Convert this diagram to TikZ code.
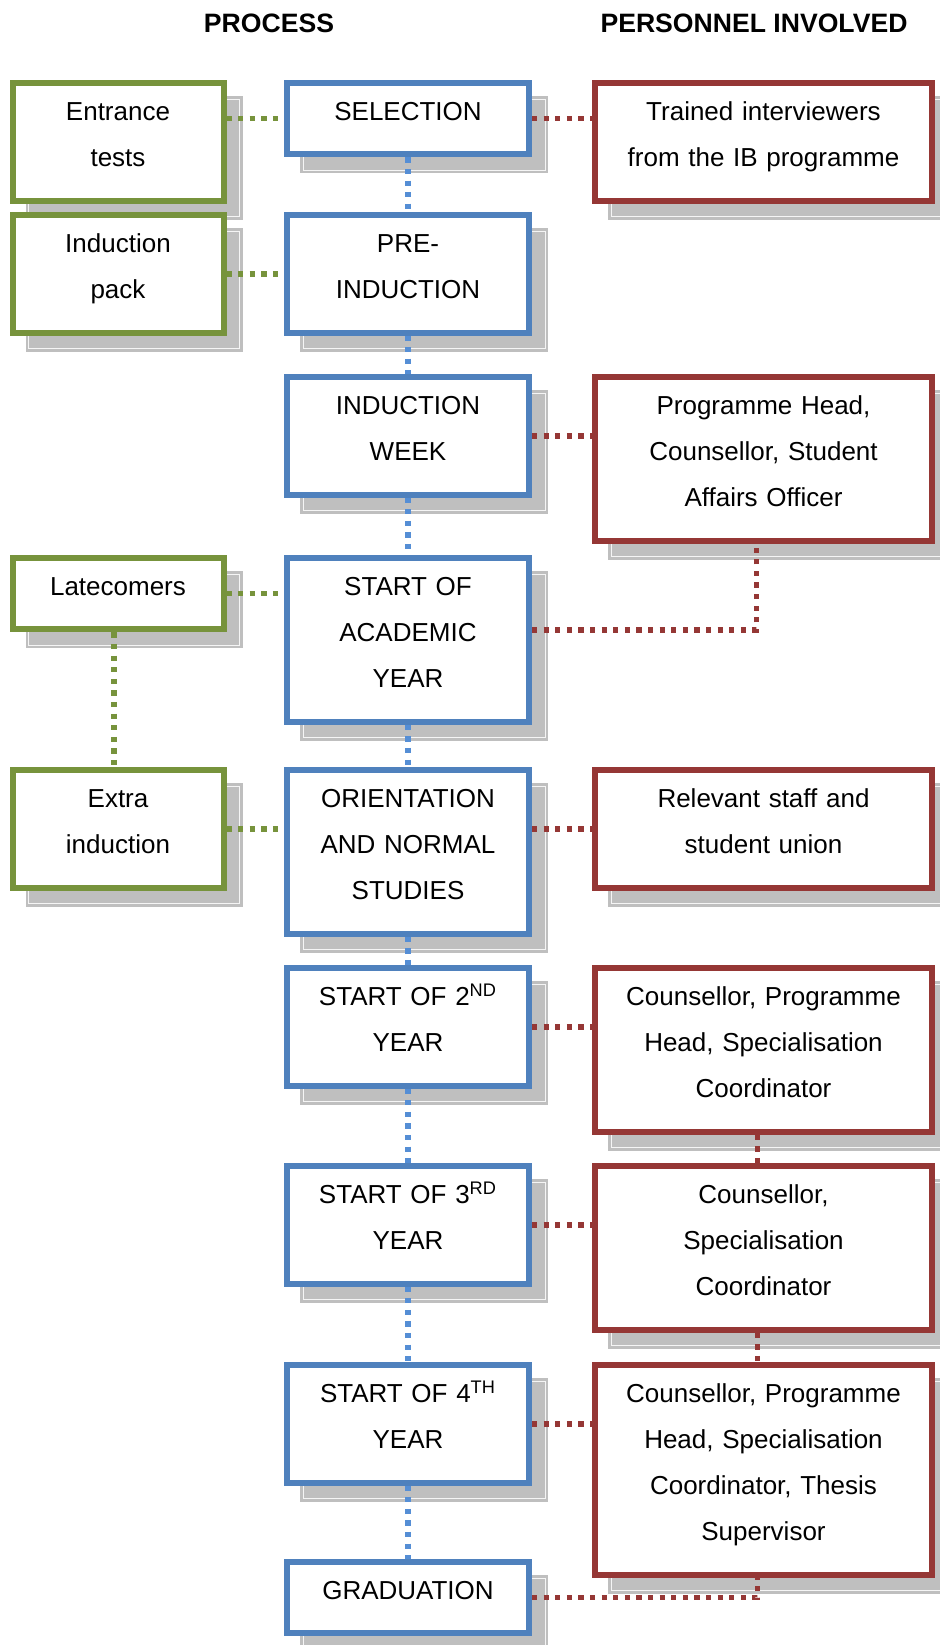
\documentclass[tikz,border=0pt]{standalone}
\usepackage{fontspec}
\setmainfont{Liberation Sans}
\definecolor{boxgreen}{HTML}{77933C}
\definecolor{boxblue}{HTML}{4F81BD}
\definecolor{boxred}{HTML}{953735}
\definecolor{dotblue}{HTML}{558ED5}
\usepackage{tikz}
\usetikzlibrary{backgrounds}

\begin{document}
\begin{tikzpicture}[x=0.5pt,y=-0.5pt,
  stagebox/.style={draw,line width=3pt,fill=white,anchor=north,align=center,inner xsep=4pt,inner ysep=2.5pt,
    font=\fontsize{13}{23.1}\selectfont,execute at begin node=\strut,execute at end node=\rule[-14.5pt]{0pt}{14.5pt}},
  greenbox/.style={stagebox,draw=boxgreen,text width=97.5pt},
  bluebox/.style={stagebox,draw=boxblue,text width=113pt},
  redbox/.style={stagebox,draw=boxred,text width=160.5pt},
  dotline/.style={line width=2.75pt,dash pattern=on 2.6pt off 3.2pt},
  gline/.style={dotline,draw=boxgreen},
  bline/.style={dotline,draw=dotblue},
  rline/.style={dotline,draw=boxred},
  dropbox/.style={draw=black!25,fill=black!25,line width=1.25pt,double=black!4,double distance=0.5pt},
  heading/.style={font=\bfseries\fontsize{13.3}{16}\selectfont}]
  \useasboundingbox (0,0) rectangle (939,1645);
  \node[heading] (proc) at (269,23) {PROCESS};
  \node[heading] (pers) at (754,23) {PERSONNEL INVOLVED};
  % left column
  \node[greenbox] (ent) at (118,80) {Entrance\\tests};
  \node[greenbox] (pack) at (118,212) {Induction\\pack};
  \node[greenbox] (late) at (118,555) {Latecomers};
  \node[greenbox] (extra) at (118,767) {Extra\\induction};
  % process column
  \node[bluebox] (sel) at (408,80) {SELECTION};
  \node[bluebox] (pre) at (408,212) {PRE-\\INDUCTION};
  \node[bluebox] (week) at (408,374) {INDUCTION\\WEEK};
  \node[bluebox] (acad) at (408,555) {START OF\\ACADEMIC\\YEAR};
  \node[bluebox] (orient) at (408,767) {ORIENTATION\\AND NORMAL\\STUDIES};
  \node[bluebox] (yrtwo) at (408,965) {START OF 2\textsuperscript{ND}\\YEAR};
  \node[bluebox] (yrthree) at (408,1163) {START OF 3\textsuperscript{RD}\\YEAR};
  \node[bluebox] (yrfour) at (408,1362) {START OF 4\textsuperscript{TH}\\YEAR};
  \node[bluebox] (grad) at (408,1559) {GRADUATION};
  % personnel column
  \node[redbox] (trn) at (763.5,80) {Trained interviewers\\from the IB programme};
  \node[redbox] (heads) at (763.5,374) {Programme Head,\\Counsellor, Student\\Affairs Officer};
  \node[redbox] (union) at (763.5,767) {Relevant staff and\\student union};
  \node[redbox] (couna) at (763.5,965) {Counsellor, Programme\\Head, Specialisation\\Coordinator};
  \node[redbox] (counb) at (763.5,1163) {Counsellor,\\Specialisation\\Coordinator};
  \node[redbox] (counc) at (763.5,1362) {Counsellor, Programme\\Head, Specialisation\\Coordinator, Thesis\\Supervisor};
  % shadows
  \begin{scope}[on background layer]
    \fill[white] (0,0) rectangle (939,1645);
    \foreach \n in {ent,pack,late,extra,sel,pre,week,acad,orient,yrtwo,yrthree,yrfour,grad,trn,heads,union,couna,counb,counc}
      \draw[dropbox] ([shift={(9.5pt,-9.5pt)}]\n.north west) rectangle ([shift={(6.5pt,-6.5pt)}]\n.south east);
  \end{scope}
  % green links
  \draw[gline] (ent.east |- sel.west) -- (sel.west);
  \draw[gline] (pack.east) -- (pre.west);
  \draw[gline] (late.east) -- (late.east -| acad.west);
  \draw[gline] (extra.east) -- (extra.east -| orient.west);
  \draw[gline] ([xshift=-2pt]late.south) -- ([xshift=-2pt]extra.north);
  % blue links
  \foreach \a/\b in {sel/pre,pre/week,week/acad,acad/orient,orient/yrtwo,yrtwo/yrthree,yrthree/yrfour,yrfour/grad}
    \draw[bline] (\a.south) -- (\b.north);
  % red links
  \draw[rline] (sel.east) -- (sel.east -| trn.west);
  \draw[rline] (week.east) -- (week.east -| heads.west);
  \draw[rline] ([yshift=5pt]acad.east) -| ([xshift=-3.5pt]heads.south);
  \draw[rline] (orient.east |- union.west) -- (union.west);
  \draw[rline] (yrtwo.east) -- (yrtwo.east -| couna.west);
  \draw[rline] (yrthree.east) -- (yrthree.east -| counb.west);
  \draw[rline] (yrfour.east) -- (yrfour.east -| counc.west);
  \draw[rline] ([xshift=-3pt]couna.south) -- ([xshift=-3pt]counb.north);
  \draw[rline] ([xshift=-3pt]counb.south) -- ([xshift=-3pt]counc.north);
  \draw[rline] (grad.east) -| ([xshift=-3pt]counc.south);
\end{tikzpicture}
\end{document}
